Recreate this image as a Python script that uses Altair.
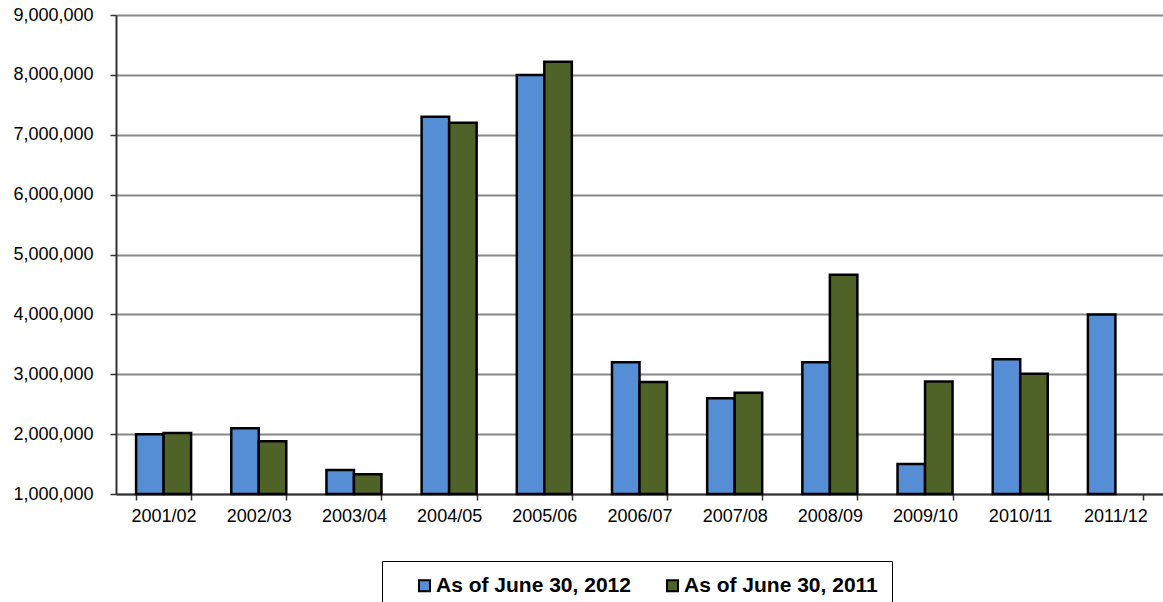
import altair as alt
import pandas as pd

# Fiscal years on the x axis
seasons = ["2001/02", "2002/03", "2003/04", "2004/05", "2005/06", "2006/07",
           "2007/08", "2008/09", "2009/10", "2010/11", "2011/12"]

# Totals recorded as of June 30, 2012
values_2012 = [2000000, 2100000, 1400000, 7300000, 8000000, 3200000,
               2600000, 3200000, 1500000, 3250000, 4000000]

# Totals recorded as of June 30, 2011 (no figure yet for 2011/12)
values_2011 = [2020000, 1880000, 1330000, 7200000, 8220000, 2870000,
               2690000, 4660000, 2880000, 3010000, None]

series_names = ["As of June 30, 2012", "As of June 30, 2011"]
series_colors = ["#558ED5", "#4F6228"]

rows = []
for i, s in enumerate(seasons):
    for name, vals in zip(series_names, [values_2012, values_2011]):
        if vals[i] is not None:
            rows.append({"season": s, "series": name, "value": vals[i]})
df = pd.DataFrame(rows)

FONT = "Arial, Liberation Sans, sans-serif"

bars = alt.Chart(df).mark_bar(stroke="black", strokeWidth=2.5).encode(
    x=alt.X(
        "season:N",
        sort=seasons,
        title=None,
        scale=alt.Scale(paddingInner=0.422, paddingOuter=0.211),
        axis=alt.Axis(
            labelAngle=0,
            labelFont=FONT,
            labelFontSize=18,
            labelColor="black",
            labelPadding=7,
            tickBand="extent",
            tickSize=6,
            tickColor="#333333",
            tickWidth=1.5,
            domainColor="#333333",
            domainWidth=2,
            grid=False,
        ),
    ),
    xOffset=alt.XOffset("series:N", sort=series_names,
                        scale=alt.Scale(paddingInner=0, paddingOuter=0)),
    y=alt.Y(
        "value:Q",
        title=None,
        scale=alt.Scale(domain=[1000000, 9000000], nice=False, zero=False),
        axis=alt.Axis(
            values=[1000000 * k for k in range(1, 10)],
            format=",d",
            labelFont=FONT,
            labelFontSize=18,
            labelColor="black",
            labelPadding=17,
            tickSize=6,
            tickColor="#333333",
            tickWidth=1.5,
            domainColor="#333333",
            domainWidth=2,
            grid=True,
            gridColor="#878787",
            gridWidth=2,
        ),
    ),
    y2=alt.datum(1000000),
    color=alt.Color(
        "series:N",
        sort=series_names,
        scale=alt.Scale(domain=series_names, range=series_colors),
        legend=alt.Legend(
            title=None,
            orient="none",
            legendX=266,
            legendY=546,
            direction="horizontal",
            symbolType="square",
            symbolSize=121,
            symbolStrokeColor="black",
            symbolStrokeWidth=2,
            symbolOffset=18,
            labelOffset=1,
            labelFont=FONT,
            labelFontSize=21,
            labelFontWeight="bold",
            labelColor="black",
            labelLimit=400,
            columnPadding=13,
            padding=14,
            strokeColor="black",
            fillColor="white",
        ),
    ),
)

chart = bars.properties(
    width=1047,
    height=479,
    padding={"left": 116, "top": 15, "right": 0, "bottom": 108},
    autosize=alt.AutoSizeParams(type="none"),
).configure_view(
    fill="#D9D9D9",
    stroke=None,
).configure(
    background="white",
)

chart.save("out.html", embed_options={"renderer": "svg", "actions": False})
